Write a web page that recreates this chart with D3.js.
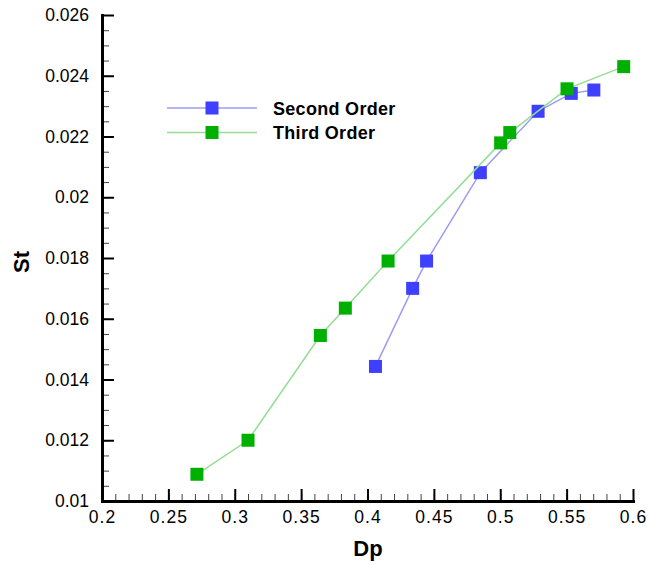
<!DOCTYPE html>
<html>
<head>
<meta charset="utf-8">
<script src="https://cdn.jsdelivr.net/npm/d3@7"></script>
<style>
  body { margin: 0; background: #fff; }
  text { font-family: "Liberation Sans", Arial, Helvetica, sans-serif; fill: #000; }
</style>
</head>
<body>
<div id="chart"></div>
<script>
// Strouhal number vs Dp, second and third order schemes

// data
var secondX = [0.406, 0.434, 0.4445, 0.485, 0.5285, 0.5535, 0.5705];
var secondY = [0.01443, 0.01700, 0.01790, 0.02081, 0.02283, 0.02342, 0.02353];

var thirdX = [0.2715, 0.310, 0.3645, 0.3833, 0.4155, 0.5003, 0.5072, 0.5503, 0.593];
var thirdY = [0.01088, 0.01200, 0.01545, 0.01635, 0.01790, 0.02179, 0.02213, 0.02357, 0.02430];

var xTicks = [0.2, 0.25, 0.3, 0.35, 0.4, 0.45, 0.5, 0.55, 0.6];
var yTicks = [0.01, 0.012, 0.014, 0.016, 0.018, 0.02, 0.022, 0.024, 0.026];

var seriesNames = ["Second Order", "Third Order"];

// size of the page
var width = 650;
var height = 565;

var svg = d3.select("#chart")
  .append("svg")
  .attr("width", width)
  .attr("height", height);

var xScale = d3.scaleLinear().domain([0.2, 0.6]).range([102, 633]);
var yScale = d3.scaleLinear().domain([0.01, 0.026]).range([501, 15]);

// minor ticks first, majors on top
var xMinor = d3.range(0, 41).map(function(i) { return 0.2 + i * 0.01; });
var yMinor = d3.range(0, 33).map(function(i) { return 0.01 + i * 0.0005; });

svg.append("g")
  .attr("class", "xMinor")
  .attr("transform", "translate(0," + yScale(0.01) + ")")
  .call(d3.axisBottom(xScale).tickValues(xMinor).tickSize(-7).tickSizeOuter(0).tickFormat(""));

svg.append("g")
  .attr("class", "yMinor")
  .attr("transform", "translate(" + xScale(0.2) + ",0)")
  .call(d3.axisLeft(yScale).tickValues(yMinor).tickSize(-7).tickSizeOuter(0).tickFormat(""));

svg.selectAll(".xMinor line, .yMinor line").attr("stroke", "#444").attr("stroke-width", 1);
svg.selectAll(".xMinor path, .yMinor path").remove();

var xAxis = d3.axisBottom(xScale)
  .tickValues(xTicks)
  .tickSize(-12)
  .tickSizeOuter(0)
  .tickPadding(10)
  .tickFormat(function(d) { return String(+d.toFixed(2)); });

var yAxis = d3.axisLeft(yScale)
  .tickValues(yTicks)
  .tickSize(-12)
  .tickSizeOuter(0)
  .tickPadding(13)
  .tickFormat(function(d) { return String(+d.toFixed(3)); });

svg.append("g")
  .attr("class", "xAxis")
  .attr("transform", "translate(0," + yScale(0.01) + ")")
  .call(xAxis);

svg.append("g")
  .attr("class", "yAxis")
  .attr("transform", "translate(" + xScale(0.2) + ",0)")
  .call(yAxis);

svg.selectAll(".xAxis path, .yAxis path")
  .attr("stroke", "#000")
  .attr("stroke-width", 3)
  .attr("stroke-linecap", "square");
svg.selectAll(".xAxis line, .yAxis line").attr("stroke", "#000").attr("stroke-width", 2);
svg.selectAll(".xAxis text, .yAxis text")
  .attr("font-size", 17.5)
  .attr("font-family", "Liberation Sans, Arial, sans-serif")
  .attr("fill", "#111");
svg.selectAll(".xAxis text").attr("letter-spacing", 1);

// axis titles
svg.append("text")
  .attr("transform", "translate(29,262)rotate(-90)")
  .attr("text-anchor", "middle")
  .attr("font-size", 22)
  .attr("font-weight", "bold")
  .text("St");

svg.append("text")
  .attr("x", 368)
  .attr("y", 556)
  .attr("text-anchor", "middle")
  .attr("font-size", 22)
  .attr("font-weight", "bold")
  .text("Dp");

// series
var series = [
  { name: seriesNames[0], xs: secondX, ys: secondY, fill: "#3f3fff", line: "#9c9cf2" },
  { name: seriesNames[1], xs: thirdX, ys: thirdY, fill: "#00b000", line: "#94de94" }
];

var line = d3.line()
  .x(function(d) { return xScale(d[0]); })
  .y(function(d) { return yScale(d[1]); });

var markSize = 13;

series.forEach(function(s) {
  var pts = s.xs.map(function(x, i) { return [x, s.ys[i]]; });

  svg.append("path")
    .datum(pts)
    .attr("d", line)
    .attr("fill", "none")
    .attr("stroke", s.line)
    .attr("stroke-width", 1.5);

  svg.selectAll(null)
    .data(pts)
    .enter()
    .append("rect")
    .attr("x", function(d) { return xScale(d[0]) - markSize / 2; })
    .attr("y", function(d) { return yScale(d[1]) - markSize / 2; })
    .attr("width", markSize)
    .attr("height", markSize)
    .attr("fill", s.fill);
});

// legend
var legend = svg.append("g").attr("class", "legend");
series.forEach(function(s, i) {
  var ly = 108 + i * 24.5;
  legend.append("line")
    .attr("x1", 167).attr("x2", 257)
    .attr("y1", ly).attr("y2", ly)
    .attr("stroke", s.line)
    .attr("stroke-width", 1.5);
  legend.append("rect")
    .attr("x", 212 - markSize / 2)
    .attr("y", ly - markSize / 2)
    .attr("width", markSize)
    .attr("height", markSize)
    .attr("fill", s.fill);
  legend.append("text")
    .attr("x", 273)
    .attr("y", ly + 6.5)
    .attr("font-size", 18)
    .attr("font-weight", "bold")
    .attr("letter-spacing", 0.3)
    .text(s.name);
});
</script>
</body>
</html>
